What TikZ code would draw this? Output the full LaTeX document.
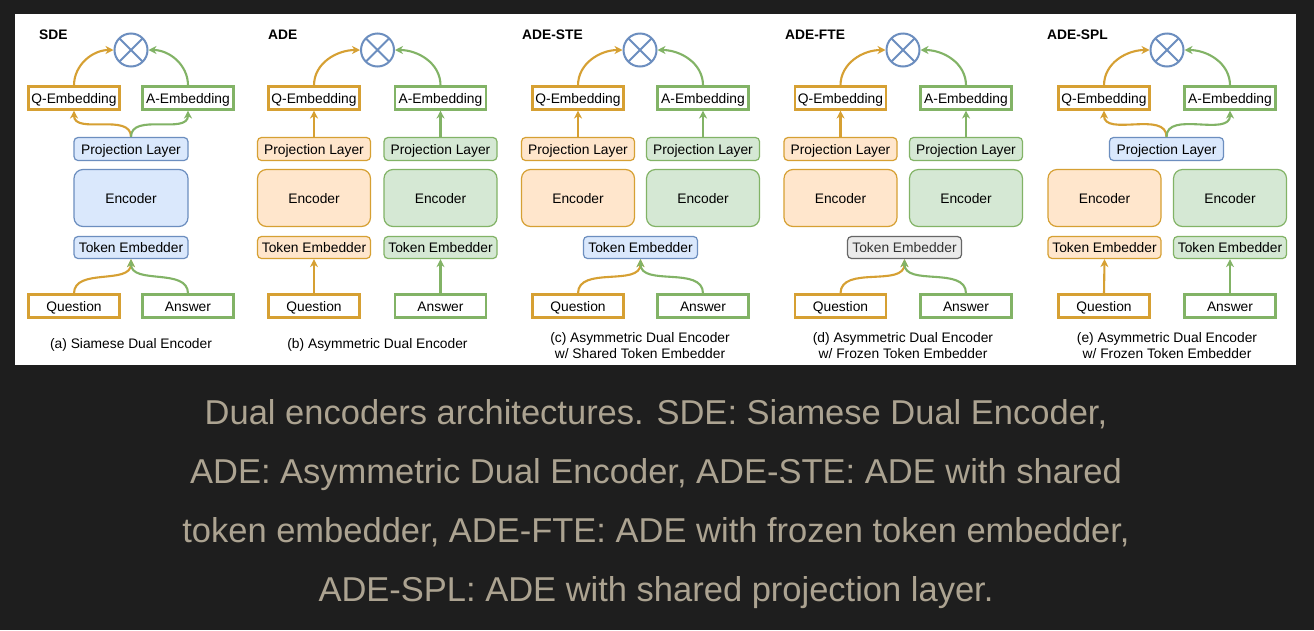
\documentclass[tikz,border=0pt]{standalone}
\usepackage{fontspec}
\setmainfont{Liberation Sans}
\usetikzlibrary{arrows.meta}

\definecolor{pagebg}{RGB}{30,30,30}
\definecolor{captext}{RGB}{172,163,145}
\definecolor{qline}{HTML}{D6A033}
\definecolor{qfill}{HTML}{FFE6CC}
\definecolor{aline}{HTML}{82B366}
\definecolor{afill}{HTML}{D5E8D4}
\definecolor{bline}{HTML}{6C8EBF}
\definecolor{bfill}{HTML}{DAE8FC}
\definecolor{gline}{HTML}{666666}
\definecolor{gfill}{HTML}{EBEBEB}
\definecolor{gtext}{HTML}{333333}

\begin{document}
\begin{tikzpicture}[x=1pt, y=-1pt,
		every node/.style={font=\fontsize{13.8}{16}\selectfont, inner sep=0pt},
		embq/.style={draw=qline, line width=2.1pt, fill=white, minimum width=91pt, minimum height=23pt, text height=12pt, text depth=2pt},
		emba/.style={embq, draw=aline},
		layq/.style={draw=qline, fill=qfill, line width=1.2pt, rounded corners=4pt, minimum width=113pt, minimum height=23pt, text height=12pt, text depth=2pt},
		laya/.style={layq, draw=aline, fill=afill},
		layb/.style={layq, draw=bline, fill=bfill, minimum width=114pt},
		layg/.style={layq, draw=gline, fill=gfill, text=gtext, minimum width=114pt},
		encq/.style={layq, minimum height=57pt, rounded corners=9pt},
		enca/.style={laya, minimum height=57pt, rounded corners=9pt},
		encb/.style={layb, minimum height=57pt, rounded corners=9pt},
		simnode/.style={circle, draw=bline, line width=2pt, fill=white, minimum size=33pt,
			path picture={\draw[bline, line width=2pt]
				(path picture bounding box.north west) -- (path picture bounding box.south east)
				(path picture bounding box.south west) -- (path picture bounding box.north east);}},
		qflow/.style={draw=qline, line width=2.1pt, -{Stealth[length=8pt, width=8pt, inset=2.5pt]}},
		aflow/.style={qflow, draw=aline},
		paneltitle/.style={anchor=west, font=\fontsize{13.8}{16}\selectfont\bfseries},
		subcap/.style={align=center, font=\fontsize{13.8}{16}\selectfont}]
	\useasboundingbox (0,0) rectangle (1314,630);
	
	% Sfondo e pannello
	\fill[pagebg] (0,0) rectangle (1314,630);
	\fill[white] (15,14) rectangle (1296,365);
	
	% (a) SDE
	\node[paneltitle] (tsde) at (39,35) {SDE};
	\node[simnode] (sim1) at (131,50) {};
	\node[embq] (qe1) at (74,98) {Q-Embedding};
	\node[emba] (ae1) at (188,98) {A-Embedding};
	\node[layb] (pl1) at (131,149) {Projection Layer};
	\node[encb] (en1) at (131,198) {Encoder};
	\node[layb, minimum height=22pt] (te1) at (131,247.5) {Token Embedder};
	\node[embq] (qu1) at (74,306) {Question};
	\node[emba] (an1) at (188,306) {Answer};
	\node[subcap] (cap1) at (131,345) {(a) Siamese Dual Encoder};
	
	\draw[qflow] (qe1.north) to[out=90, in=180] (sim1.west);
	\draw[aflow] (ae1.north) to[out=90, in=0] (sim1.east);
	\draw[qflow] (pl1.north) to[out=90, in=-90] (qe1.south);
	\draw[aflow] (pl1.north) to[out=90, in=-90] (ae1.south);
	\draw[qflow] (qu1.north) to[out=90, in=-90] (te1.south);
	\draw[aflow] (an1.north) to[out=90, in=-90] (te1.south);
	
	% (b) ADE
	\node[paneltitle] (tade) at (268,35) {ADE};
	\node[simnode] (sim2) at (377.5,50) {};
	\node[embq] (qe2) at (314,98) {Q-Embedding};
	\node[emba] (ae2) at (440.5,98) {A-Embedding};
	\node[layq] (plq2) at (314,149) {Projection Layer};
	\node[laya] (pla2) at (440.5,149) {Projection Layer};
	\node[encq] (enq2) at (314,198) {Encoder};
	\node[enca] (ena2) at (440.5,198) {Encoder};
	\node[layq, minimum height=22pt] (teq2) at (314,247.5) {Token Embedder};
	\node[laya, minimum height=22pt] (tea2) at (440.5,247.5) {Token Embedder};
	\node[embq] (qu2) at (314,306) {Question};
	\node[emba] (an2) at (440.5,306) {Answer};
	\node[subcap] (cap2) at (377.5,345) {(b) Asymmetric Dual Encoder};
	
	\draw[qflow] (qe2.north) to[out=90, in=180] (sim2.west);
	\draw[aflow] (ae2.north) to[out=90, in=0] (sim2.east);
	\draw[qflow] (plq2.north) -- (qe2.south);
	\draw[aflow] (pla2.north) -- (ae2.south);
	\draw[qflow] (qu2.north) -- (teq2.south);
	\draw[aflow] (an2.north) -- (tea2.south);
	
	% (c) ADE-STE
	\node[paneltitle] (tste) at (522,35) {ADE-STE};
	\node[simnode] (sim3) at (640,50) {};
	\node[embq] (qe3) at (578,98) {Q-Embedding};
	\node[emba] (ae3) at (703,98) {A-Embedding};
	\node[layq] (plq3) at (578,149) {Projection Layer};
	\node[laya] (pla3) at (703,149) {Projection Layer};
	\node[encq] (enq3) at (578,198) {Encoder};
	\node[enca] (ena3) at (703,198) {Encoder};
	\node[layb, minimum height=22pt] (te3) at (640.5,247.5) {Token Embedder};
	\node[embq] (qu3) at (578,306) {Question};
	\node[emba] (an3) at (703,306) {Answer};
	\node[subcap] (cap3) at (640,346) {(c) Asymmetric Dual Encoder\\w/ Shared Token Embedder};
	
	\draw[qflow] (qe3.north) to[out=90, in=180] (sim3.west);
	\draw[aflow] (ae3.north) to[out=90, in=0] (sim3.east);
	\draw[qflow] (plq3.north) -- (qe3.south);
	\draw[aflow] (pla3.north) -- (ae3.south);
	\draw[qflow] (qu3.north) to[out=90, in=-90] (te3.south);
	\draw[aflow] (an3.north) to[out=90, in=-90] (te3.south);
	
	% (d) ADE-FTE
	\node[paneltitle] (tfte) at (785,35) {ADE-FTE};
	\node[simnode] (sim4) at (903,50) {};
	\node[embq] (qe4) at (840.5,98) {Q-Embedding};
	\node[emba] (ae4) at (966,98) {A-Embedding};
	\node[layq] (plq4) at (840.5,149) {Projection Layer};
	\node[laya] (pla4) at (966,149) {Projection Layer};
	\node[encq] (enq4) at (840.5,198) {Encoder};
	\node[enca] (ena4) at (966,198) {Encoder};
	\node[layg, minimum height=22pt] (te4) at (904.5,247.5) {Token Embedder};
	\node[embq] (qu4) at (840.5,306) {Question};
	\node[emba] (an4) at (966,306) {Answer};
	\node[subcap] (cap4) at (903,346) {(d) Asymmetric Dual Encoder\\w/ Frozen Token Embedder};
	
	\draw[qflow] (qe4.north) to[out=90, in=180] (sim4.west);
	\draw[aflow] (ae4.north) to[out=90, in=0] (sim4.east);
	\draw[qflow] (plq4.north) -- (qe4.south);
	\draw[aflow] (pla4.north) -- (ae4.south);
	\draw[qflow] (qu4.north) to[out=90, in=-90] (te4.south);
	\draw[aflow] (an4.north) to[out=90, in=-90] (te4.south);
	
	% (e) ADE-SPL
	\node[paneltitle] (tspl) at (1047,35) {ADE-SPL};
	\node[simnode] (sim5) at (1167,50) {};
	\node[embq] (qe5) at (1104,98) {Q-Embedding};
	\node[emba] (ae5) at (1230,98) {A-Embedding};
	\node[layb] (pl5) at (1166.5,149) {Projection Layer};
	\node[encq] (enq5) at (1104.5,198) {Encoder};
	\node[enca] (ena5) at (1230,198) {Encoder};
	\node[layq, minimum height=22pt] (teq5) at (1104.5,247.5) {Token Embedder};
	\node[laya, minimum height=22pt] (tea5) at (1230,247.5) {Token Embedder};
	\node[embq] (qu5) at (1104,306) {Question};
	\node[emba] (an5) at (1230,306) {Answer};
	\node[subcap] (cap5) at (1167,346) {(e) Asymmetric Dual Encoder\\w/ Frozen Token Embedder};
	
	\draw[qflow] (qe5.north) to[out=90, in=180] (sim5.west);
	\draw[aflow] (ae5.north) to[out=90, in=0] (sim5.east);
	\draw[qflow] (pl5.north) to[out=90, in=-90] (qe5.south);
	\draw[aflow] (pl5.north) to[out=90, in=-90] (ae5.south);
	\draw[qflow] (qu5.north) -- (teq5.south);
	\draw[aflow] (an5.north) -- (tea5.south);
	
	% Didascalia
	\node[align=center, text=captext, font=\fontsize{34.5}{59}\selectfont] (figcap) at (656,504)
		{Dual encoders architectures. SDE: Siamese Dual Encoder,\\
		ADE: Asymmetric Dual Encoder, ADE-STE: ADE with shared\\
		token embedder, ADE-FTE: ADE with frozen token embedder,\\
		ADE-SPL: ADE with shared projection layer.};
\end{tikzpicture}
\end{document}
